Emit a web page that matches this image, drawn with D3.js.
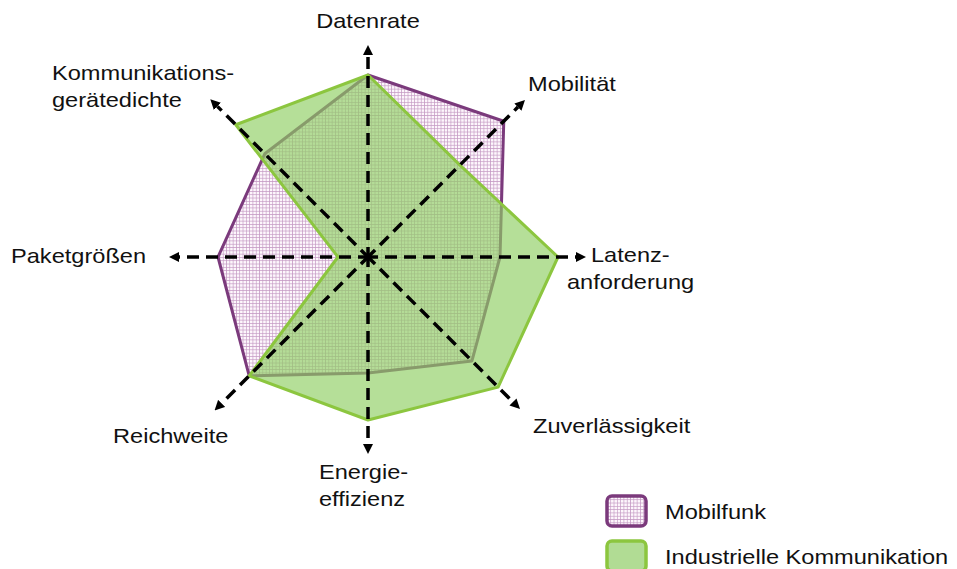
<!DOCTYPE html>
<html>
<head>
<meta charset="utf-8">
<script src="https://cdn.jsdelivr.net/npm/d3@7"></script>
<style>
  body { margin: 0; background: #fff; }
  text { font-family: "Liberation Sans", Arial, sans-serif; fill: #111; }
</style>
</head>
<body>
<div id="chart"></div>
<script>
// Radar chart: Mobilfunk vs. industrielle Kommunikation

// Axes, clockwise starting at the top
var axes = ["Datenrate", "Mobilität", "Latenz-\nanforderung", "Zuverlässigkeit",
            "Energie-\neffizienz", "Reichweite", "Paketgrößen", "Kommunikations-\ngerätedichte"];

// Values on a 0..10 scale, same order as axes
var mobilfunk = [9.1, 9.6, 6.6, 7.35, 5.8, 8.4, 7.5, 7.3];
var industrie = [9.1, 6.5, 9.5, 9.2, 8.15, 8.4, 1.5, 9.35];

var seriesNames = ["Mobilfunk", "Industrielle Kommunikation"];

// Layout
var W = 957, H = 569;
var cx = 368, cy = 257;
var axisEnd = [10.55, 11.05, 10.85, 10.7, 9.8, 10.8, 9.9, 11.1];
var arrowLen = 9;
var textScale = 1.18;
var labelPos = [
    {x: 368, y: 28, anchor: "middle"},
    {x: 528, y: 91, anchor: "start"},
    {x: 591, y: 262, anchor: "start", dx2: -24},
    {x: 533, y: 433, anchor: "start"},
    {x: 319, y: 479, anchor: "start"},
    {x: 113, y: 443, anchor: "start"},
    {x: 11, y: 263, anchor: "start"},
    {x: 52, y: 80, anchor: "start"}
];

var purple = "#7b3a7c";
var green = "#8cc63f";

var svg = d3.select("#chart").append("svg")
    .attr("width", W)
    .attr("height", H);

var defs = svg.append("defs");

// grid hatch for Mobilfunk
var pat = defs.append("pattern")
    .attr("id", "hatch")
    .attr("patternUnits", "userSpaceOnUse")
    .attr("width", 3.3)
    .attr("height", 3.3);
pat.append("rect")
    .attr("width", 3.3)
    .attr("height", 3.3)
    .attr("fill", "#fdf7fc");
pat.append("path")
    .attr("d", "M0,0.4 H3.3 M0.4,0 V3.3")
    .attr("stroke", "#c49ac3")
    .attr("stroke-width", 0.7);

defs.append("marker")
    .attr("id", "arrow")
    .attr("markerUnits", "userSpaceOnUse")
    .attr("viewBox", "0 0 10 10")
    .attr("refX", 0)
    .attr("refY", 5)
    .attr("markerWidth", 10)
    .attr("markerHeight", 11)
    .attr("orient", "auto")
  .append("path")
    .attr("d", "M0,0 L10,5 L0,10 z")
    .attr("fill", "#000");

var r = d3.scaleLinear().domain([0, 10]).range([0, 200]);
var angle = d3.scaleLinear().domain([0, axes.length]).range([0, 2 * Math.PI]);

var g = svg.append("g").attr("transform", "translate(" + cx + "," + cy + ")");

var radial = d3.lineRadial()
    .angle(function(d, i) { return angle(i); })
    .radius(function(d) { return r(d); })
    .curve(d3.curveLinearClosed);

// Mobilfunk polygon
g.append("path")
    .attr("d", radial(mobilfunk))
    .attr("fill", "url(#hatch)")
    .attr("stroke", purple)
    .attr("stroke-width", 3)
    .attr("stroke-linejoin", "round");

// Industrielle Kommunikation polygon
g.append("path")
    .attr("d", radial(industrie))
    .attr("fill", "#8fcf62")
    .attr("fill-opacity", 0.66)
    .attr("stroke", green)
    .attr("stroke-width", 3)
    .attr("stroke-linejoin", "round");

// Dashed axes with arrows
function px(i, v) { return Math.sin(angle(i)) * v; }
function py(i, v) { return -Math.cos(angle(i)) * v; }

g.selectAll("line.axis")
    .data(axes)
    .enter().append("line")
    .attr("class", "axis")
    .attr("x1", 0)
    .attr("y1", 0)
    .attr("x2", function(d, i) { return px(i, r(axisEnd[i]) - arrowLen); })
    .attr("y2", function(d, i) { return py(i, r(axisEnd[i]) - arrowLen); })
    .attr("stroke", "#000")
    .attr("stroke-width", 3.5)
    .attr("stroke-dasharray", "12,7")
    .attr("stroke-dashoffset", 2)
    .attr("marker-end", "url(#arrow)");

// Axis labels
axes.forEach(function(name, i) {
    var p = labelPos[i];
    var lines = name.split("\n");
    lines.forEach(function(line, k) {
        var x = p.x + (k > 0 && p.dx2 ? p.dx2 : 0);
        var y = p.y + k * 27;
        svg.append("g")
            .attr("transform", "translate(" + x + "," + y + ") scale(" + textScale + ",1)")
          .append("text")
            .attr("text-anchor", p.anchor)
            .style("font-size", "20px")
            .text(line);
    });
});

// Legend
var legend = svg.append("g").attr("transform", "translate(607,496)");
var legendFill = ["url(#hatch)", "#b1dc94"];
var legendStroke = [purple, green];
seriesNames.forEach(function(name, i) {
    var row = legend.append("g").attr("transform", "translate(0," + (i * 45) + ")");
    row.append("rect")
        .attr("width", 39)
        .attr("height", 30)
        .attr("rx", 5)
        .attr("fill", legendFill[i])
        .attr("stroke", legendStroke[i])
        .attr("stroke-width", 3.5);
    row.append("g")
        .attr("transform", "translate(58,23) scale(" + textScale + ",1)")
      .append("text")
        .style("font-size", "20px")
        .text(name);
});
</script>
</body>
</html>
